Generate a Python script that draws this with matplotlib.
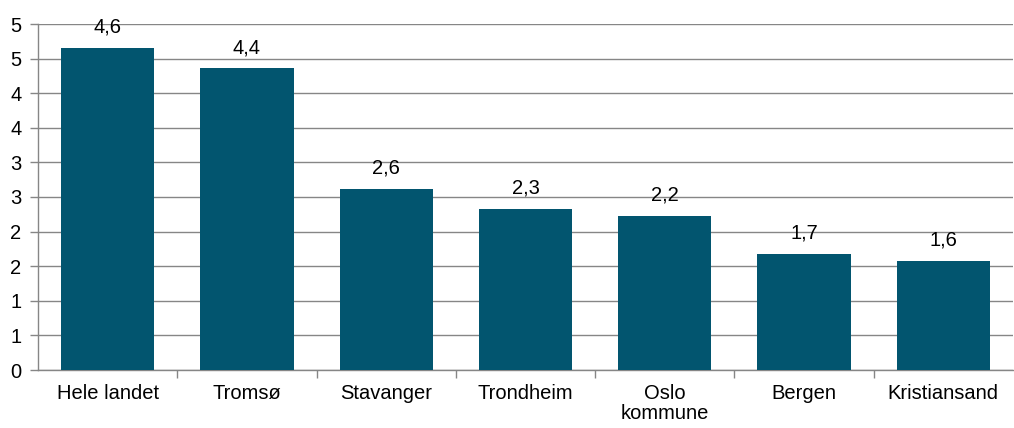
import matplotlib.pyplot as plt
from matplotlib.ticker import FuncFormatter, MultipleLocator
import math

plt.rcParams['font.family'] = ['Liberation Sans', 'DejaVu Sans']

categories = ['Hele landet', 'Tromsø', 'Stavanger', 'Trondheim', 'Oslo\nkommune', 'Bergen', 'Kristiansand']
values = [4.65, 4.36, 2.62, 2.33, 2.23, 1.68, 1.58]
value_labels = ['4,6', '4,4', '2,6', '2,3', '2,2', '1,7', '1,6']

bar_color = '#02556F'
grid_color = '#868686'
fs = 14.5

fig = plt.figure(figsize=(10.14, 4.28), dpi=100)
ax = fig.add_axes([38 / 1014, 58 / 428, 975 / 1014, 346 / 428])

x = list(range(len(categories)))
ax.bar(x, values, width=0.67, color=bar_color, zorder=3)

for xi, v, lab in zip(x, values, value_labels):
    ax.annotate(lab, (xi, v), xytext=(0, 11), textcoords='offset points',
                ha='center', va='baseline', fontsize=fs, color='#000000')

ax.set_xlim(-0.5, len(categories) - 0.5)
ax.set_ylim(0, 5)

# Excel style: ticks every 0.5 but shown with no decimals (round half up)
ax.yaxis.set_major_locator(MultipleLocator(0.5))
ax.yaxis.set_major_formatter(FuncFormatter(lambda v, p: str(int(math.floor(v + 0.5 + 1e-9)))))
ax.grid(axis='y', color=grid_color, linewidth=1, zorder=0)

ax.set_xticks(x)
ax.set_xticklabels(categories, linespacing=1.1)
ax.set_xticks([i + 0.5 for i in x[:-1]], minor=True)
ax.tick_params(axis='x', which='major', length=0, pad=10, labelsize=fs)
ax.tick_params(axis='x', which='minor', length=6, color=grid_color, width=1)
ax.tick_params(axis='y', length=6, color=grid_color, width=1, labelsize=fs, pad=6)

for s in ['top', 'right']:
    ax.spines[s].set_visible(False)
for s in ['left', 'bottom']:
    ax.spines[s].set_color(grid_color)
    ax.spines[s].set_linewidth(1)

fig.savefig('out.png', dpi=100)
